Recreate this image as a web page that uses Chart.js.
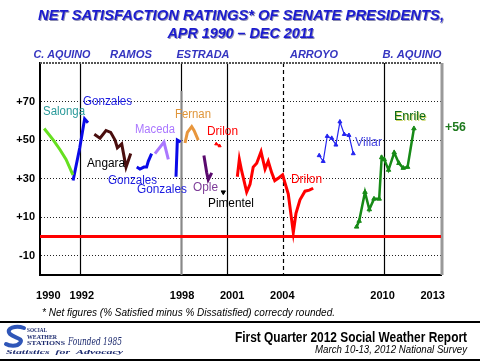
<!DOCTYPE html>
<html>
<head>
<meta charset="utf-8">
<script src="https://cdn.jsdelivr.net/npm/chart.js@4"></script>
<style>
    body { margin: 0; background: #fff; }
    canvas { display: block; }
</style>
</head>
<body>
<canvas id="chart" width="480" height="361"></canvas>
<script>
// values: x = survey date as decimal year, y = net rating
const salongaX = [1990.25, 1990.8, 1991.2, 1991.56, 1991.97];
const salongaY = [56, 50, 45, 40, 32];
const gonzales1X = [1991.98, 1992.38, 1992.67, 1992.87];
const gonzales1Y = [29, 46, 61, 59];
const angaraX = [1993.25, 1993.59, 1993.95, 1994.23, 1994.49, 1994.63, 1994.89, 1995.15, 1995.43];
const angaraY = [53, 51, 55, 54, 50, 46, 48, 36, 43];
const gonzales2X = [1995.79, 1995.98, 1996.22, 1996.38, 1996.48, 1996.68];
const gonzales2Y = [36, 35, 36, 36, 39, 43];
const macedaX = [1996.88, 1997.42, 1997.68];
const macedaY = [43, 49, 40];
const gonzales3X = [1998.14, 1998.22, 1998.42];
const gonzales3Y = [31, 50, 49];
const fernanX = [1998.68, 1998.82, 1999.08, 1999.22, 1999.47];
const fernanY = [48.5, 54, 57, 55, 50];
const opleX = [1999.81, 1999.98, 2000.07, 2000.28];
const opleY = [42, 33, 29.5, 33];
const drilon1X = [2000.55, 2000.75];
const drilon1Y = [48, 47];
const pimentelX = [2000.97];
const pimentelY = [23];
const drilon2X = [2001.81, 2001.93, 2002.07, 2002.37, 2002.57, 2002.76, 2002.97, 2003.23, 2003.47, 2003.66,
    2003.87, 2004.05, 2004.3, 2004.52, 2004.86, 2005.16, 2005.32, 2005.56, 2005.86, 2006.12, 2006.35];
const drilon2Y = [31, 40, 34, 23, 27, 36, 38, 44, 35, 39, 33, 29, 30.5, 32, 22, 2, 12, 19, 23.5, 24, 25];
const villarX = [2006.71, 2006.95, 2007.19, 2007.46, 2007.71, 2007.95, 2008.21, 2008.49, 2008.75];
const villarY = [42, 39, 52, 51, 47.5, 59.5, 53, 52.5, 43];
const enrileX = [2008.95, 2009.1, 2009.45, 2009.71, 2009.99, 2010.3, 2010.45, 2010.6, 2010.86, 2011.2, 2011.48, 2011.74, 2012.0, 2012.38];
const enrileY = [5, 8, 23, 14, 19.5, 19.5, 41, 40, 34.5, 43.5, 38, 35.5, 36, 56];

// axes
const xTickPos = [1990.5, 1992.5, 1998.5, 2001.5, 2004.5, 2010.5, 2013.5];
const xTickLabels = ['1990', '1992', '1998', '2001', '2004', '2010', '2013'];
const yTicks = [-10, 10, 30, 50, 70];
const termStarts = [1992.39, 1998.44, 2001.19, 2004.54, 2010.59];
const presidents = ['C. AQUINO', 'RAMOS', 'ESTRADA', 'ARROYO', 'B. AQUINO'];

const FONT = "'Liberation Sans', Arial, sans-serif";
Chart.defaults.font.family = FONT;

function pts(xs, ys) {
    return xs.map((x, i) => ({ x: x, y: ys[i] }));
}

function series(xs, ys, color, width, marker) {
    return {
        data: pts(xs, ys),
        borderColor: color,
        backgroundColor: color,
        borderWidth: width,
        pointRadius: marker || 0,
        pointBorderWidth: 1,
        pointStyle: 'triangle',
        tension: 0,
        showLine: true
    };
}

function txt(ctx, s, x, y, font, color, align, w) {
    ctx.save();
    ctx.font = font;
    ctx.fillStyle = color;
    ctx.textAlign = align || 'left';
    ctx.textBaseline = 'middle';
    ctx.translate(x, y);
    if (w) {
        const m = ctx.measureText(s).width;
        ctx.scale(w / m, 1);
    }
    ctx.fillText(s, 0, 0);
    ctx.restore();
}

// frame, term lines and all the texts around the plot
const decor = {
    id: 'decor',
    beforeDatasetsDraw(chart) {
        const ctx = chart.ctx;
        const a = chart.chartArea;
        const xs = chart.scales.x;
        ctx.save();
        termStarts.forEach((yr, i) => {
            const px = Math.round(xs.getPixelForValue(yr)) + 0.5;
            ctx.beginPath();
            ctx.strokeStyle = '#000';
            ctx.lineWidth = 1.2;
            ctx.setLineDash(i === 3 ? [4, 3] : []);
            ctx.moveTo(px, a.top);
            ctx.lineTo(px, a.bottom);
            ctx.stroke();
            if (i === 1) {
                ctx.strokeStyle = '#888';
                ctx.lineWidth = 2;
                ctx.beginPath();
                ctx.moveTo(px, a.top + 28);
                ctx.lineTo(px, a.bottom);
                ctx.stroke();
            }
        });
        ctx.setLineDash([2, 1]);
        ctx.strokeStyle = '#555';
        ctx.lineWidth = 2;
        ctx.beginPath();
        ctx.moveTo(a.left, a.top);
        ctx.lineTo(a.right, a.top);
        ctx.stroke();
        ctx.setLineDash([]);
        ctx.strokeStyle = '#999';
        ctx.lineWidth = 3;
        ctx.beginPath();
        ctx.moveTo(a.right + 1, a.top);
        ctx.lineTo(a.right + 1, a.bottom);
        ctx.stroke();
        ctx.restore();
    },
    afterDraw(chart) {
        const ctx = chart.ctx;

        // title
        ctx.save();
        ctx.shadowColor = 'rgba(0,0,80,0.45)';
        ctx.shadowOffsetX = 1;
        ctx.shadowOffsetY = 1;
        txt(ctx, 'NET SATISFACTION RATINGS* OF SENATE PRESIDENTS,', 241, 16, 'italic bold 15px ' + FONT, '#1c1ccf', 'center', 406);
        txt(ctx, 'APR 1990 \u2013 DEC 2011', 241, 33.5, 'italic bold 15px ' + FONT, '#1c1ccf', 'center', 147);
        ctx.restore();

        // president terms
        const presX = [62, 131, 203, 314, 412];
        const presW = [57, 42, 53, 48, 59];
        presidents.forEach((p, i) => {
            txt(ctx, p, presX[i], 54.5, 'italic bold 11px ' + FONT, '#3434c0', 'center', presW[i]);
        });

        // series labels
        const f = '12px ' + FONT;
        txt(ctx, 'Salonga', 43, 112, f, '#2a9a9a', 'left', 42);
        txt(ctx, 'Gonzales', 83, 101.5, f, '#1a1ae0', 'left', 49);
        txt(ctx, 'Angara', 87, 163.5, f, '#000', 'left', 38);
        txt(ctx, 'Maceda', 135, 130, f, '#aa77ff', 'left', 40);
        txt(ctx, 'Gonzales', 108, 180.5, f, '#1a1ae0', 'left', 49);
        txt(ctx, 'Gonzales', 137, 190, f, '#1a1ae0', 'left', 50);
        txt(ctx, 'Fernan', 175, 115, f, '#e0963a', 'left', 36);
        txt(ctx, 'Drilon', 207, 131.5, f, '#ff0000', 'left', 31);
        txt(ctx, 'Ople', 193, 187.5, f, '#7d3c98', 'left', 25);
        txt(ctx, 'Pimentel', 208, 203.5, f, '#000', 'left', 46);
        txt(ctx, 'Drilon', 291, 180, f, '#ff0000', 'left', 31);
        txt(ctx, 'Villar', 355, 142.5, f, '#4848e0', 'left', 27);
        ctx.save();
        ctx.shadowColor = 'rgba(200,210,90,0.9)';
        ctx.shadowOffsetX = 1;
        ctx.shadowOffsetY = 1;
        txt(ctx, 'Enrile', 394, 116, '13px ' + FONT, '#0c6a1a', 'left', 32);
        ctx.restore();
        txt(ctx, '+56', 445, 127.5, 'bold 12px ' + FONT, '#1f7a1f', 'left', 21);

        // footnote
        txt(ctx, '* Net figures (% Satisfied minus % Dissatisfied) correcdy rounded.', 42, 313.5,
            'italic 10px ' + FONT, '#000', 'left', 293);

        // footer rules
        ctx.save();
        ctx.fillStyle = '#000';
        ctx.fillRect(0, 321, 480, 2);
        ctx.fillRect(0, 359, 480, 2);
        ctx.restore();

        // SWS logo
        ctx.save();
        ctx.strokeStyle = '#2f56b8';
        ctx.lineWidth = 4;
        ctx.lineCap = 'round';
        ctx.beginPath();
        ctx.moveTo(24, 328);
        ctx.bezierCurveTo(16, 325, 5, 328, 10, 334);
        ctx.bezierCurveTo(14, 338, 24, 338, 20, 343);
        ctx.bezierCurveTo(17, 347, 9, 346, 6, 344);
        ctx.stroke();
        ctx.restore();
        const navy = '#1c2a6e';
        txt(ctx, 'SOCIAL', 27, 330.5, 'bold 7px "Liberation Serif", serif', navy, 'left', 20);
        txt(ctx, 'WEATHER', 27, 337, 'bold 7px "Liberation Serif", serif', navy, 'left', 30);
        txt(ctx, 'STATIONS', 27, 343.5, 'bold 7px "Liberation Serif", serif', navy, 'left', 38);
        txt(ctx, 'Founded 1985', 68, 342, 'italic 11px "DejaVu Serif", serif', navy, 'left', 54);
        txt(ctx, 'Statistics  for  Advocacy', 6, 352.5, 'italic bold 6px "Liberation Serif", serif', navy, 'left', 117);

        // report info
        txt(ctx, 'First Quarter 2012 Social Weather Report', 467, 338, 'bold 14px ' + FONT, '#000', 'right', 232);
        txt(ctx, 'March 10-13, 2012 National Survey', 467, 350.5, 'italic 10px ' + FONT, '#000', 'right', 152);
    }
};

const datasets = [
    series([1990, 2014], [0, 0], '#ff0000', 3, 0),
    series(salongaX, salongaY, '#66e020', 3, 0),
    series(gonzales1X, gonzales1Y, '#0a0ae8', 3, 0),
    series(angaraX, angaraY, '#4a0e0e', 3, 0),
    series(gonzales2X, gonzales2Y, '#0a0ae8', 3, 0),
    series(macedaX, macedaY, '#aa77ff', 3, 0),
    series(gonzales3X, gonzales3Y, '#0a0ae8', 3, 0),
    series(fernanX, fernanY, '#e8963c', 3, 0),
    series(opleX, opleY, '#5a0a6e', 3, 0),
    series(drilon1X, drilon1Y, '#ff0000', 1.5, 1.8),
    series(pimentelX, pimentelY, '#000', 1, 2.5),
    series(drilon2X, drilon2Y, '#ff0000', 3, 0),
    series(villarX, villarY, '#2424f0', 1.2, 2.3),
    series(enrileX, enrileY, '#178a17', 2.5, 2.6)
];
datasets[10].pointRotation = 180;

new Chart(document.getElementById('chart'), {
    type: 'scatter',
    data: { datasets: datasets },
    options: {
        responsive: false,
        animation: false,
        layout: { padding: { top: 63, right: 39, left: 0, bottom: 0 } },
        plugins: { legend: { display: false }, tooltip: { enabled: false } },
        scales: {
            x: {
                type: 'linear',
                min: 1990,
                max: 2014,
                afterFit: s => { s.height = 86; },
                afterBuildTicks: s => { s.ticks = xTickPos.map(v => ({ value: v })); },
                ticks: {
                    padding: 6,
                    color: '#000',
                    font: { size: 11, weight: 'bold' },
                    callback: (v, i) => xTickLabels[i]
                },
                grid: { display: false },
                border: { display: true, color: '#000', width: 2 }
            },
            y: {
                min: -20,
                max: 90,
                afterFit: s => { s.width = 40; },
                afterBuildTicks: s => { s.ticks = yTicks.map(v => ({ value: v })); },
                ticks: {
                    padding: 5,
                    color: '#000',
                    font: { size: 11, weight: 'bold' },
                    callback: v => (v > 0 ? '+' + v : String(v))
                },
                grid: { color: '#222', lineWidth: 1, drawTicks: false },
                border: { display: true, color: '#000', width: 2, dash: [1, 2] }
            }
        }
    },
    plugins: [decor]
});
</script>
</body>
</html>
